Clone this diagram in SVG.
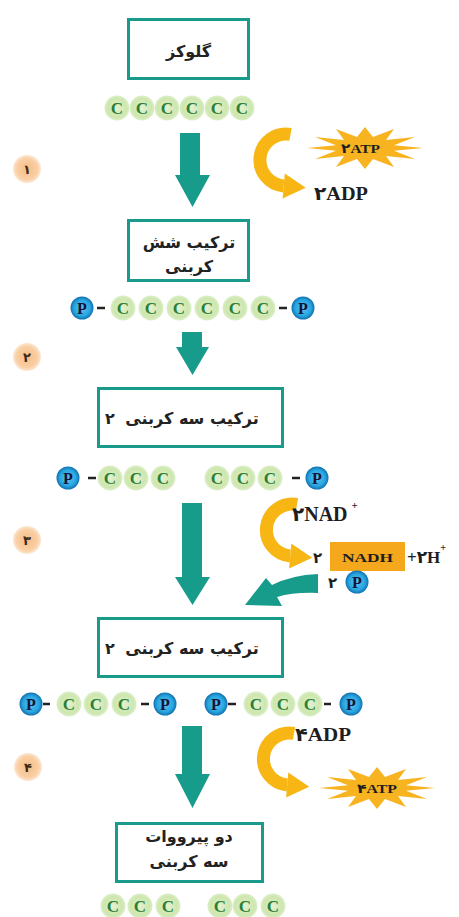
<svg xmlns="http://www.w3.org/2000/svg" xmlns:xlink="http://www.w3.org/1999/xlink" width="459" height="917" viewBox="0 0 459 917">
<style>
.box{fill:#fff;stroke:#1a9a8b;stroke-width:3}
.fa{font-family:'DejaVu Sans',sans-serif;font-weight:bold;font-size:16px;fill:#222;text-anchor:middle}
.lbl{font-family:'Liberation Serif','DejaVu Sans',serif;font-weight:bold;fill:#1e1e1e}
.ct{font-family:'Liberation Serif',serif;font-weight:bold;font-size:17px;fill:#2b7f36;text-anchor:middle}
.pt{font-family:'Liberation Serif',serif;font-weight:bold;font-size:16px;fill:#14143a;text-anchor:middle}
.num{font-family:'DejaVu Sans',sans-serif;font-weight:bold;font-size:13px;fill:#3b2a1a;text-anchor:middle}
.teal{fill:#179b8b}
.yel{fill:none;stroke:#f7b614;stroke-width:13}
.yelh{fill:#f7b614}
.dash{stroke:#222;stroke-width:2.5}
</style>
<defs>
<radialGradient id="cg"><stop offset="0" stop-color="#e4f2cf"/><stop offset="0.75" stop-color="#cde6ae"/><stop offset="1" stop-color="#dcefc8"/></radialGradient>
<radialGradient id="pg"><stop offset="0" stop-color="#5cc4f0"/><stop offset="0.7" stop-color="#27a6e0"/><stop offset="1" stop-color="#1270b0"/></radialGradient>
<radialGradient id="ng"><stop offset="0" stop-color="#f6bd85"/><stop offset="0.75" stop-color="#f9cfa5"/><stop offset="1" stop-color="#fde7d2"/></radialGradient>
<g id="c"><circle r="12.5" fill="url(#cg)"/><text class="ct" y="6">C</text></g>
<g id="p"><circle r="11.5" fill="url(#pg)"/><text class="pt" y="5.5">P</text></g>
<polygon id="burst" points="58,0 29,2.8 50,11 21,8 29,19 8,11 0,21 -8,11 -29,19 -21,8 -50,11 -29,2.8 -58,0 -29,-2.8 -50,-11 -21,-8 -29,-19 -8,-11 0,-21 8,-11 29,-19 21,-8 50,-11 29,-2.8" fill="#f8b320"/>
<g id="yarrow"><path class="yel" d="M 37.5 10.4 A 26 26 0 1 0 30.7 61.9"/><polygon class="yelh" points="31.8,49.4 52.7,63.8 29.6,74.4"/></g>
</defs>

<g id="connectors">
<polygon class="teal" points="180,133 200,133 200,175 210,175 192.5,207 175,175 180,175"/>
<polygon class="teal" points="182,332 202,332 202,347 209,347 192.5,375 176,347 182,347"/>
<polygon class="teal" points="182,503 202,503 202,577 210,577 192.5,605 175,577 182,577"/>
<polygon class="teal" points="182,726 202,726 202,774 210,774 192.5,808 175,774 182,774"/>
<path class="teal" d="M 318 574 Q 292 575 272 585 L 266 578 L 245 605 L 282 606 L 277 597 Q 294 592 318 593 Z"/>
<use xlink:href="#yarrow" transform="translate(253,124)"/>
<use xlink:href="#yarrow" transform="translate(259.5,494)"/>
<use xlink:href="#yarrow" transform="translate(256.5,723)"/>
</g>

<g id="step-numbers">
<g id="n1"><circle cx="27" cy="169" r="14" fill="url(#ng)"/><text class="num" x="27" y="174">۱</text></g>
<g id="n2"><circle cx="27" cy="357" r="14" fill="url(#ng)"/><text class="num" x="27" y="362">۲</text></g>
<g id="n3"><circle cx="27" cy="540" r="14" fill="url(#ng)"/><text class="num" x="27" y="545">۳</text></g>
<g id="n4"><circle cx="28" cy="767" r="14" fill="url(#ng)"/><text class="num" x="28" y="772">۴</text></g>
</g>

<g id="glucose">
<rect class="box" x="128.5" y="19.5" width="120" height="59"/>
<text class="fa" x="188.5" y="57" font-size="19">گلوکز</text>
</g>
<g id="row1">
<use xlink:href="#c" x="117" y="108"/><use xlink:href="#c" x="142" y="108"/><use xlink:href="#c" x="167" y="108"/>
<use xlink:href="#c" x="192" y="108"/><use xlink:href="#c" x="217" y="108"/><use xlink:href="#c" x="242" y="108"/>
</g>

<g id="atp1">
<use xlink:href="#burst" x="365" y="148"/>
<text class="lbl" x="341" y="153" font-size="13" textLength="39" lengthAdjust="spacingAndGlyphs" fill="#4a2a00">۲ATP</text>
</g>
<text class="lbl" x="314" y="200" font-size="19" textLength="54" lengthAdjust="spacingAndGlyphs">۲ADP</text>

<g id="fructose-bisphosphate">
<rect class="box" x="128.5" y="220.5" width="120" height="60"/>
<text class="fa" x="189" y="248" font-size="17">ترکیب شش</text>
<text class="fa" x="189" y="272" font-size="17">کربنی</text>
</g>
<g id="row2">
<use xlink:href="#p" x="82" y="308"/>
<line class="dash" x1="97" y1="308" x2="105" y2="308"/>
<use xlink:href="#c" x="123" y="308"/><use xlink:href="#c" x="151" y="308"/><use xlink:href="#c" x="179" y="308"/>
<use xlink:href="#c" x="207" y="308"/><use xlink:href="#c" x="235" y="308"/><use xlink:href="#c" x="263" y="308"/>
<line class="dash" x1="279" y1="308" x2="287" y2="308"/>
<use xlink:href="#p" x="303" y="308"/>
</g>

<g id="three-carbon-1">
<rect class="box" x="98.5" y="388.5" width="184" height="58"/>
<text class="fa" x="110" y="424" font-size="17" text-anchor="start">۲</text>
<text class="fa" x="192" y="424" font-size="17">ترکیب سه کربنی</text>
</g>
<g id="row3">
<use xlink:href="#p" x="68" y="478"/>
<line class="dash" x1="88" y1="478" x2="96" y2="478"/>
<use xlink:href="#c" x="110" y="478"/><use xlink:href="#c" x="136" y="478"/><use xlink:href="#c" x="163" y="478"/>
<use xlink:href="#c" x="217" y="478"/><use xlink:href="#c" x="243" y="478"/><use xlink:href="#c" x="270" y="478"/>
<line class="dash" x1="292" y1="478" x2="300" y2="478"/>
<use xlink:href="#p" x="317" y="478"/>
</g>

<g id="nad">
<text class="lbl" x="292" y="521" font-size="20">۲NAD<tspan font-size="11" dx="4" dy="-12">+</tspan></text>
</g>
<g id="nadh">
<text class="lbl" x="313" y="563" font-size="15">۲</text>
<rect x="330" y="542" width="75" height="29" fill="#f6a81c"/>
<text class="lbl" x="342" y="561.5" font-size="12" textLength="51" lengthAdjust="spacingAndGlyphs" fill="#3a2a10">NADH</text>
<text class="lbl" x="407" y="563" font-size="17">+۲H<tspan font-size="10" dy="-12">+</tspan></text>
</g>
<g id="pi">
<text class="lbl" x="328" y="588" font-size="15">۲</text>
<use xlink:href="#p" x="357" y="582"/>
</g>

<g id="three-carbon-2">
<rect class="box" x="98.5" y="618.5" width="184" height="58"/>
<text class="fa" x="110" y="654" font-size="17" text-anchor="start">۲</text>
<text class="fa" x="192" y="654" font-size="17">ترکیب سه کربنی</text>
</g>
<g id="row4">
<use xlink:href="#p" x="31" y="704"/>
<line class="dash" x1="43" y1="704" x2="50" y2="704"/>
<use xlink:href="#c" x="69" y="704"/><use xlink:href="#c" x="96" y="704"/><use xlink:href="#c" x="124" y="704"/>
<line class="dash" x1="141" y1="704" x2="149" y2="704"/>
<use xlink:href="#p" x="165" y="704"/>
<use xlink:href="#p" x="216" y="704"/>
<line class="dash" x1="228" y1="704" x2="236" y2="704"/>
<use xlink:href="#c" x="256" y="704"/><use xlink:href="#c" x="283" y="704"/><use xlink:href="#c" x="310" y="704"/>
<line class="dash" x1="324" y1="704" x2="331" y2="704"/>
<use xlink:href="#p" x="351" y="704"/>
</g>

<text class="lbl" x="295" y="741" font-size="19" textLength="56" lengthAdjust="spacingAndGlyphs">۴ADP</text>
<g id="atp4">
<use xlink:href="#burst" x="377" y="788"/>
<text class="lbl" x="357" y="793" font-size="13" textLength="40" lengthAdjust="spacingAndGlyphs" fill="#4a2a00">۴ATP</text>
</g>

<g id="pyruvate">
<rect class="box" x="116.5" y="823.5" width="146" height="58"/>
<text class="fa" x="189" y="842" font-size="17">دو پیرووات</text>
<text class="fa" x="189" y="867" font-size="17">سه کربنی</text>
</g>
<g id="row5">
<use xlink:href="#c" x="113" y="906"/><use xlink:href="#c" x="140" y="906"/><use xlink:href="#c" x="168" y="906"/>
<use xlink:href="#c" x="220" y="906"/><use xlink:href="#c" x="245" y="906"/><use xlink:href="#c" x="273" y="906"/>
</g>
</svg>
